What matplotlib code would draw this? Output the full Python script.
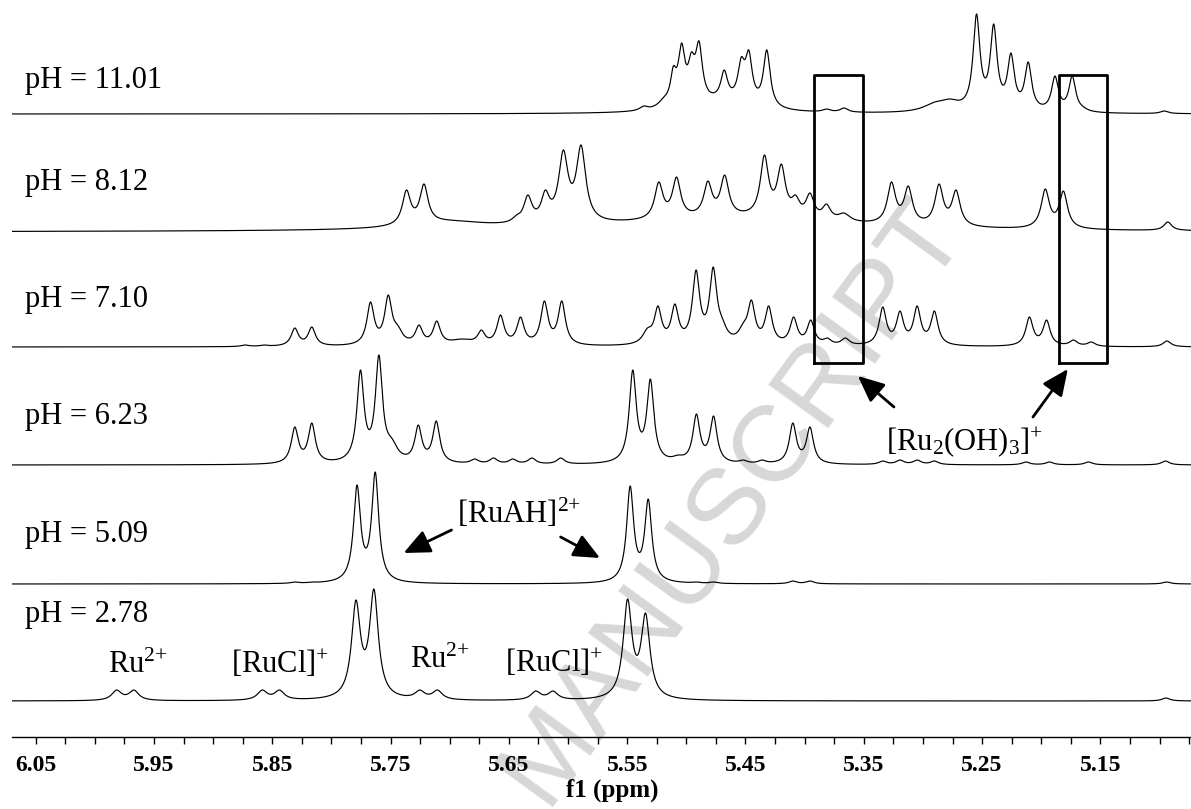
"""
Stacked 1H NMR spectra (5.07-6.07 ppm) of the Ru complex at six pH values.
Each trace is rebuilt from peak positions / apex heights read off the figure.
"""

import numpy as np
import matplotlib.pyplot as plt
from matplotlib.ticker import FixedLocator, MultipleLocator, FormatStrFormatter
from matplotlib.transforms import blended_transform_factory


FIG_W, FIG_H, DPI = 1191, 809, 100

plt.rcParams["font.family"] = ["Liberation Serif", "DejaVu Serif"]
plt.rcParams["mathtext.fontset"] = "custom"
plt.rcParams["mathtext.rm"] = "Liberation Serif"
plt.rcParams["mathtext.it"] = "Liberation Serif:italic"
plt.rcParams["mathtext.bf"] = "Liberation Serif:bold"

# ---- data (ppm, apex height in px, half width in ppm) ----
PH_LABELS = ["pH = 2.78", "pH = 5.09", "pH = 6.23", "pH = 7.10", "pH = 8.12", "pH = 11.01"]

PPM_278 = [5.9816, 5.9670, 5.8585, 5.8440, 5.7793, 5.7641, 5.7253, 5.7104,
           5.6273, 5.6127, 5.5497, 5.5345, 5.0946]
APEX_278 = [11, 11, 11, 11, 101, 112, 11, 11, 10, 10, 102, 88, 3]
WIDTH_278 = [0.005, 0.005, 0.005, 0.005, 0.0045, 0.0045, 0.005, 0.005,
             0.005, 0.005, 0.0045, 0.0045, 0.004]

PPM_509 = [5.8310, 5.8166, 5.7784, 5.7630, 5.5475, 5.5322, 5.4915, 5.4770,
           5.4100, 5.3955, 5.0940]
APEX_509 = [2, 2, 99, 112, 98, 85, 2, 2, 3, 3, 2]
WIDTH_509 = [0.004, 0.004, 0.0036, 0.0036, 0.0036, 0.0036, 0.004, 0.004,
             0.004, 0.004, 0.004]

PPM_623 = [5.8310, 5.8166, 5.7755, 5.7599, 5.7490, 5.7266, 5.7114, 5.6790,
           5.6630, 5.6467, 5.6305, 5.6062, 5.5453, 5.5304, 5.5070, 5.4915,
           5.4770, 5.4520, 5.4360, 5.4100, 5.3955, 5.3340, 5.3194, 5.3049,
           5.2903, 5.2130, 5.1930, 5.1600, 5.0950]
APEX_623 = [38, 42, 95, 110, 27, 40, 44, 6, 7, 6, 7, 7, 95, 86, 10, 51,
            49, 5, 5, 42, 38, 4, 5, 5, 4, 3, 3, 3, 4]
WIDTH_623 = [0.0036, 0.0036, 0.0036, 0.0036, 0.006, 0.0036, 0.0036, 0.004,
             0.004, 0.004, 0.004, 0.004, 0.0036, 0.0036, 0.006, 0.0036,
             0.0036, 0.004, 0.004, 0.0036, 0.0036, 0.004, 0.004, 0.004,
             0.004, 0.004, 0.004, 0.004, 0.004]

PPM_710 = [5.8730, 5.8570, 5.8310, 5.8166, 5.7670, 5.7520, 5.7440, 5.7260,
           5.7110, 5.6900, 5.6733, 5.6571, 5.6402, 5.6200, 5.6053, 5.5329,
           5.5240, 5.5097, 5.4918, 5.4773, 5.4699, 5.4520, 5.4450, 5.4304,
           5.4093, 5.3948, 5.3808, 5.3656, 5.3340, 5.3194, 5.3049, 5.2903,
           5.2100, 5.1955, 5.1728, 5.1577, 5.0937]
APEX_710 = [2, 2, 19, 20, 45, 52, 22, 22, 26, 8, 17, 32, 30, 46, 46, 19,
            41, 43, 77, 80, 30, 24, 47, 41, 30, 27, 9, 9, 40, 36, 41, 36,
            30, 27, 7, 5, 6]
WIDTH_710 = [0.004, 0.004, 0.0037, 0.0037, 0.0037, 0.0037, 0.005, 0.0037,
             0.0037, 0.012, 0.0037, 0.0037, 0.0037, 0.0037, 0.0037, 0.005,
             0.0037, 0.0037, 0.0037, 0.0037, 0.005, 0.005, 0.0037, 0.0037,
             0.0037, 0.0037, 0.004, 0.004, 0.0037, 0.0037, 0.0037, 0.0037,
             0.0037, 0.0037, 0.004, 0.004, 0.004]

PPM_812 = [5.8310, 5.8166, 5.7366, 5.7218, 5.6880, 5.6720, 5.6437, 5.6340,
           5.6192, 5.6040, 5.5890, 5.5233, 5.5083, 5.4818, 5.4676, 5.4340,
           5.4197, 5.4077, 5.3955, 5.3815, 5.3667, 5.3266, 5.3124, 5.2864,
           5.2720, 5.1966, 5.1813, 5.0930]
APEX_812 = [2, 2, 42, 48, 10, 9, 17, 37, 42, 82, 87, 50, 55, 51, 57, 77,
            68, 37, 39, 28, 19, 50, 46, 48, 42, 43, 41, 10]
WIDTH_812 = [0.004, 0.004, 0.0042, 0.0042, 0.005, 0.005, 0.0042, 0.0042,
             0.0042, 0.0048, 0.0048, 0.0042, 0.0042, 0.0042, 0.0042, 0.0042,
             0.0042, 0.0042, 0.0042, 0.0042, 0.006, 0.0042, 0.0042, 0.0042,
             0.0042, 0.0042, 0.0042, 0.004]
BROAD_PPM_812 = [5.70, 5.46]
BROAD_HEIGHT_812 = [7, 13]
BROAD_WIDTH_812 = [0.04, 0.12]

PPM_1101 = [5.5361, 5.5190, 5.5110, 5.5040, 5.4957, 5.4893, 5.4680, 5.4536,
            5.4472, 5.4320, 5.4230, 5.3815, 5.3667, 5.2900, 5.2770, 5.2547,
            5.2402, 5.2256, 5.2110, 5.1884, 5.1738, 5.1650, 5.0960]
APEX_1101 = [8, 17, 48, 71, 62, 73, 44, 57, 64, 64, 12, 5, 6, 12, 15, 100,
             90, 61, 52, 38, 38, 8, 3]
WIDTH_1101 = [0.004, 0.006, 0.003, 0.0035, 0.0035, 0.0035, 0.0035, 0.0035,
              0.0035, 0.0035, 0.005, 0.004, 0.004, 0.012, 0.01, 0.0035,
              0.0035, 0.0035, 0.0035, 0.0035, 0.0035, 0.005, 0.004]
BROAD_PPM_1101 = [5.47]
BROAD_HEIGHT_1101 = [10]
BROAD_WIDTH_1101 = [0.03]

TICK_PPM = [6.05, 5.95, 5.85, 5.75, 5.65, 5.55, 5.45, 5.35, 5.25, 5.15]

# ---- layout (pixel-like y units above the axis line) ----
X_LIM = (6.0703, 5.0734)
AXIS_Y_PX = 737
SPECTRUM_OFFSET = [36, 153, 272, 390, 505, 623]
PH_LABEL_Y = [115, 195, 313, 430, 547, 649]
BOX_PPM = [(5.3918, 5.3510), (5.1852, 5.1448)]
BOX_Y = (374, 662)


def lorentz(x, x0, w):
    return 1.0 / (1.0 + ((x - x0) / w) ** 2)


def build_trace(x, centers, apex, widths, broad=None):
    centers = np.asarray(centers, float)
    apex = np.asarray(apex, float)
    widths = np.asarray(widths, float)

    base_x = np.zeros_like(x)
    base_c = np.zeros_like(centers)
    if broad is not None:
        for p, h, w in zip(*broad):
            base_x += h * lorentz(x, p, w)
            base_c += h * lorentz(centers, p, w)

    basis = lorentz(centers[:, None], centers[None, :], widths[None, :])
    amps, *_ = np.linalg.lstsq(basis, apex - base_c, rcond=None)
    amps = np.clip(amps, 0, None)
    narrow = (amps[None, :] * lorentz(x[:, None], centers[None, :], widths[None, :])).sum(axis=1)
    return base_x + narrow


def main():
    fig = plt.figure(figsize=(FIG_W / DPI, FIG_H / DPI), dpi=DPI)
    left = 11.7 / FIG_W
    ax = fig.add_axes([left, (FIG_H - AXIS_Y_PX) / FIG_H, 1 - left, AXIS_Y_PX / FIG_H])

    # watermark
    fig.text(0.615, 0.38, "MANUSCRIPT", family="Liberation Sans", fontsize=78,
             color="#d7d7d7", rotation=54, ha="center", va="center",
             rotation_mode="anchor", zorder=0)
    ax.set_zorder(1)
    ax.patch.set_alpha(0)

    x = np.linspace(X_LIM[0], X_LIM[1], 6000)
    spectra = [
        (PPM_278, APEX_278, WIDTH_278, None),
        (PPM_509, APEX_509, WIDTH_509, None),
        (PPM_623, APEX_623, WIDTH_623, None),
        (PPM_710, APEX_710, WIDTH_710, None),
        (PPM_812, APEX_812, WIDTH_812, (BROAD_PPM_812, BROAD_HEIGHT_812, BROAD_WIDTH_812)),
        (PPM_1101, APEX_1101, WIDTH_1101, (BROAD_PPM_1101, BROAD_HEIGHT_1101, BROAD_WIDTH_1101)),
    ]
    for (ppm, apex, width, broad), offset in zip(spectra, SPECTRUM_OFFSET):
        y = build_trace(x, ppm, apex, width, broad)
        ax.plot(x, y + offset, color="black", lw=0.85)

    label_tf = blended_transform_factory(ax.transAxes, ax.transData)
    for text, ly in zip(PH_LABELS, PH_LABEL_Y):
        ax.text(0.0113, ly, text, transform=label_tf, fontsize=22, va="baseline", ha="left")

    # species labels on the pH 2.78 trace
    ax.text(5.9889, 64, r"Ru$^{2{+}}$", fontsize=22, va="baseline")
    ax.text(5.8849, 64, r"[RuCl]$^{+}$", fontsize=22, va="baseline")
    ax.text(5.7340, 69, r"Ru$^{2{+}}$", fontsize=22, va="baseline")
    ax.text(5.6533, 65, r"[RuCl]$^{+}$", fontsize=22, va="baseline")

    arrow = dict(arrowstyle="-|>,head_length=0.8,head_width=0.36", color="black",
                 lw=2, mutation_scale=20, shrinkA=0, shrinkB=0)
    ax.text(5.6940, 214, r"[RuAH]$^{2{+}}$", fontsize=22, va="baseline")
    ax.annotate("", xy=(5.7390, 184), xytext=(5.6985, 207), arrowprops=arrow)
    ax.annotate("", xy=(5.5730, 179), xytext=(5.6063, 200), arrowprops=arrow)

    ax.text(5.3312, 287, r"[Ru$_{2}$(OH)$_{3}$]$^{+}$", fontsize=22, va="baseline")
    ax.annotate("", xy=(5.3550, 361), xytext=(5.3245, 330), arrowprops=arrow)
    ax.annotate("", xy=(5.1775, 368), xytext=(5.2070, 320), arrowprops=arrow)

    for x0, x1 in BOX_PPM:
        ax.plot([x0, x1, x1, x0, x0], [BOX_Y[0], BOX_Y[0], BOX_Y[1], BOX_Y[1], BOX_Y[0]],
                color="black", lw=2)

    ax.set_xlim(*X_LIM)
    ax.set_ylim(0, AXIS_Y_PX)
    for side in ["left", "right", "top"]:
        ax.spines[side].set_visible(False)
    ax.spines["bottom"].set_linewidth(1)
    ax.set_yticks([])

    ax.xaxis.set_major_locator(FixedLocator(TICK_PPM))
    ax.xaxis.set_minor_locator(MultipleLocator(0.025))
    ax.xaxis.set_major_formatter(FormatStrFormatter("%.2f"))
    ax.tick_params(axis="x", which="both", direction="out", length=5, width=1)
    ax.tick_params(axis="x", which="major", pad=8, labelsize=17)
    for lab in ax.get_xticklabels():
        lab.set_fontweight("bold")

    ax.set_xlabel("f1 (ppm)", fontsize=18, fontweight="bold")
    ax.xaxis.set_label_coords(0.509, -(779 - AXIS_Y_PX) / AXIS_Y_PX)

    fig.savefig("out.png", dpi=DPI)
    plt.close(fig)


if __name__ == "__main__":
    main()
